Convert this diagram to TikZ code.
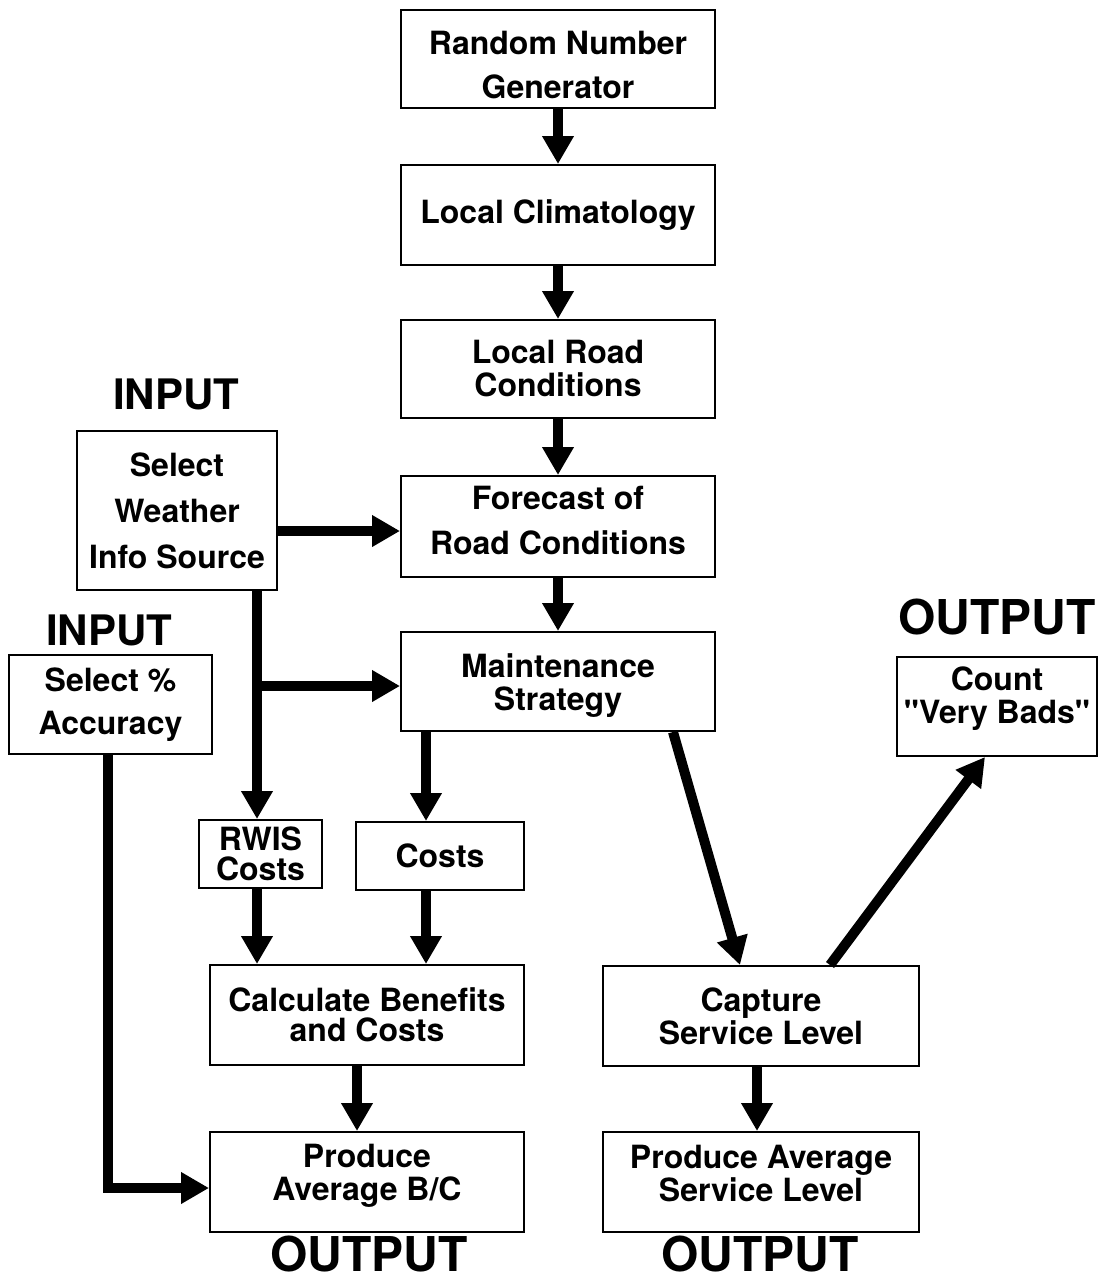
\documentclass[tikz,border=0pt]{standalone}
\usepackage{fontspec}
\setmainfont{TeX Gyre Heros}
\newfontfamily\qfont{TeX Gyre Heros}
\usetikzlibrary{arrows.meta}
\begin{document}
\begin{tikzpicture}[x=1pt,y=-1pt,
  box/.style={draw, line width=2pt, align=center, inner sep=0pt,
    font=\fontsize{32}{33}\selectfont\bfseries},
  boxlab/.style={align=center, inner sep=0pt, font=\fontsize{32}{33}\selectfont\bfseries},
  head/.style={inner sep=0pt, font=\fontsize{42}{44}\selectfont\bfseries},
  headout/.style={inner sep=0pt, font=\fontsize{48}{50}\selectfont\bfseries},
  arr/.style={line width=10pt, -{Triangle[length=28pt,width=30pt]}}
]
\useasboundingbox (0,0) rectangle (1103,1282);
% boxes
\node[box, minimum width=314, minimum height=98] (rng) at (558,59) {};
\node[boxlab] (rngt) at (558,65) {Random Number\\[11pt]Generator};
\node[box, minimum width=314, minimum height=100] (clim) at (558,215) {Local Climatology};
\node[box, minimum width=314, minimum height=98] (lrc) at (558,369) {Local Road\\Conditions};
\node[box, minimum width=314, minimum height=101] (frc) at (558,526.5) {};
\node[boxlab] (frct) at (558,521) {Forecast of\\[12pt]Road Conditions};
\node[box, minimum width=314, minimum height=99] (ms) at (558,681.5) {};
\node[boxlab] (mst) at (558,686) {Maintenance\\Strategy};
\node[box, minimum width=200, minimum height=159] (sw) at (177,510.5) {Select\\[13pt]Weather\\[13pt]Info Source};
\node[box, minimum width=203, minimum height=99] (sa) at (110.5,704.5) {Select \%\\[10pt]Accuracy};
\node[box, minimum width=200, minimum height=99] (cnt) at (997,706.5) {};
\node[boxlab] (cntt) at (997,699) {Count\\{\qfont "}Very Bads{\qfont "}};
\node[box, minimum width=123, minimum height=68] (rwis) at (260.5,854) {RWIS\\[-3pt]Costs};
\node[box, minimum width=168, minimum height=68] (costs) at (440,856) {Costs};
\node[box, minimum width=314, minimum height=100] (calc) at (367,1015) {Calculate Benefits\\[-3pt]and Costs};
\node[box, minimum width=316, minimum height=100] (cap) at (761,1016) {Capture\\Service Level};
\node[box, minimum width=314, minimum height=100] (pbc) at (367,1182) {};
\node[boxlab] (pbct) at (367,1176) {Produce\\Average B/C};
\node[box, minimum width=316, minimum height=100] (psl) at (761,1182) {};
\node[boxlab] (pslt) at (761,1174) {Produce Average\\Service Level};
% headings
\node[head] (in1) at (176,394) {INPUT};
\node[head] (in2) at (109,630) {INPUT};
\node[headout] (out1) at (997,617) {OUTPUT};
\node[headout] (out2) at (369,1254) {OUTPUT};
\node[headout] (out3) at (760,1254) {OUTPUT};
% helper coordinates
\coordinate (j) at (257,686);
\coordinate (xc) at (426,800);
\coordinate (xb) at (357,1100);
\coordinate (ya) at (108,1188);
\coordinate (ys) at (0,531);
\coordinate (m1) at (673,0);
\coordinate (c1) at (740,0);
\coordinate (c2) at (830,0);
\coordinate (k1) at (985,0);
\coordinate (xs) at (757,0);
% connectors
\draw[arr] (rng) -- (clim);
\draw[arr] (clim) -- (lrc);
\draw[arr] (lrc) -- (frc);
\draw[arr] (frc) -- (ms);
\draw[arr] (sw.east |- ys) -- (frc.west |- ys);
\draw[arr] (sw.south -| j) -- (rwis.north -| j);
\draw[arr] ([xshift=-5pt]j) -- (ms.west |- j);
\draw[arr] (ms.south -| xc) -- (costs.north -| xc);
\draw[arr] (rwis.south -| j) -- (calc.north -| j);
\draw[arr] (costs.south -| xc) -- (calc.north -| xc);
\draw[arr] (calc.south -| xb) -- (pbc.north -| xb);
\draw[arr, line join=miter] (sa.south -| ya) -- (ya) -- (pbc.west |- ya);
\draw[arr] (ms.south -| m1) -- (cap.north -| c1);
\draw[arr] (cap.north -| c2) -- (cnt.south -| k1);
\draw[arr] (cap.south -| xs) -- (psl.north -| xs);
\end{tikzpicture}
\end{document}
